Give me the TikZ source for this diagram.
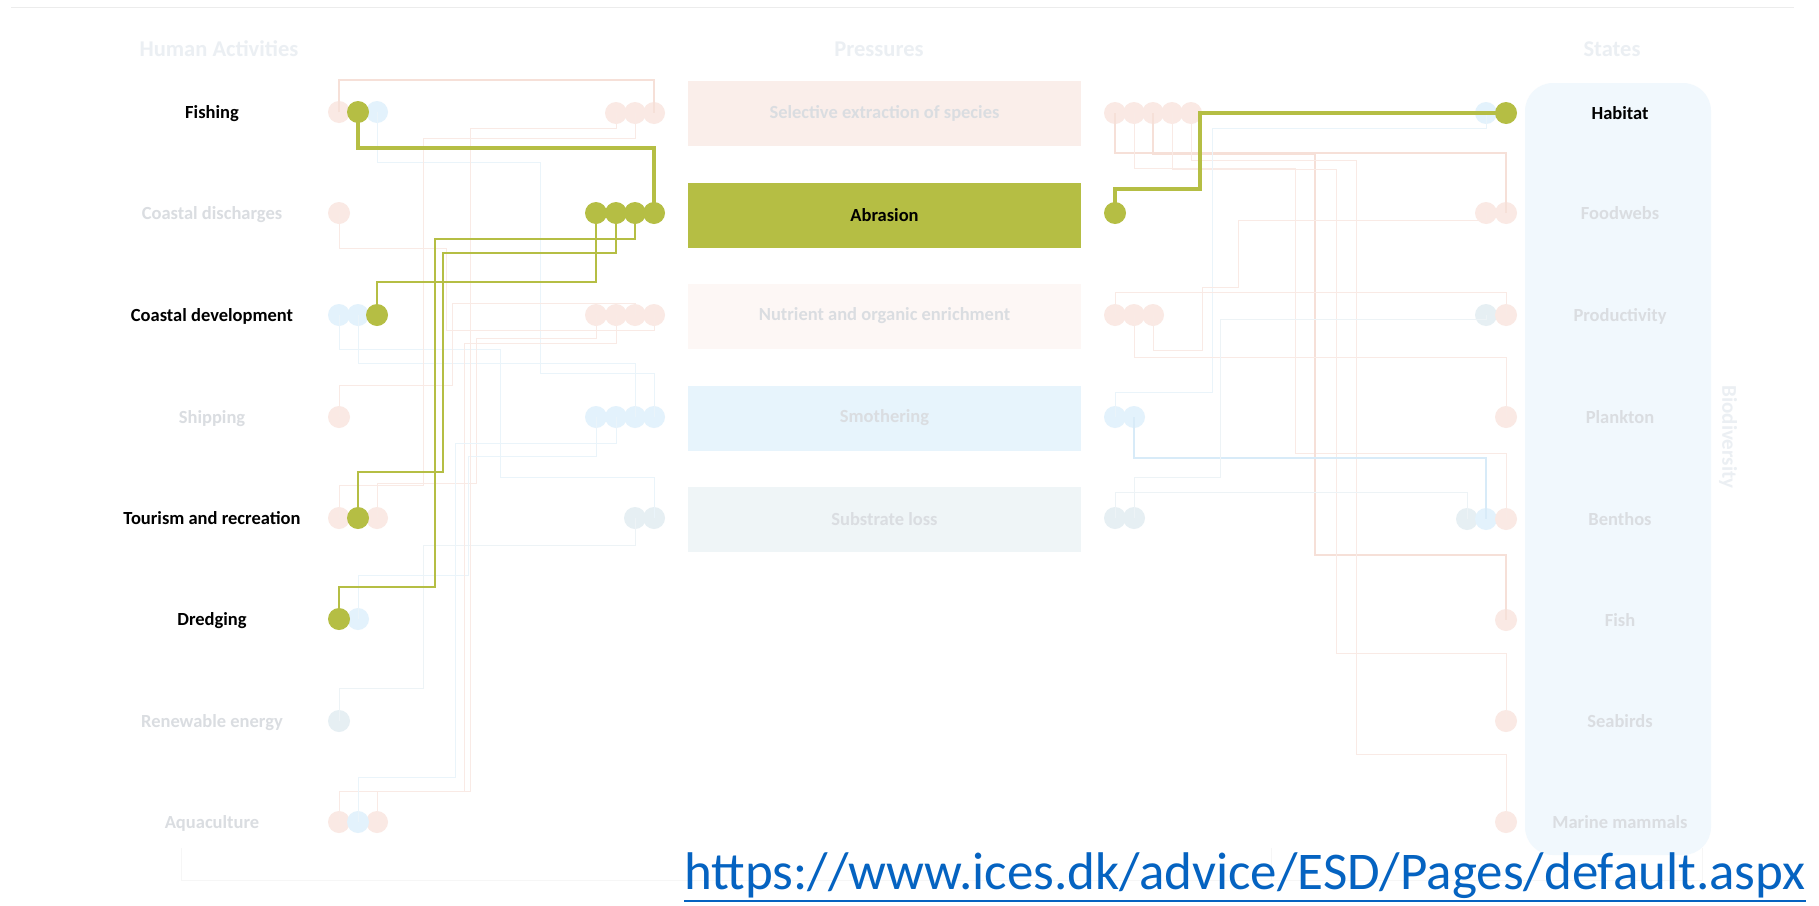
\documentclass[tikz,border=0pt]{standalone}
\usepackage{fontspec}
\setmainfont{Carlito}
\definecolor{grn}{RGB}{181,190,68}
\definecolor{redDot}{RGB}{250,233,228}
\definecolor{redLine}{RGB}{249,234,229}
\definecolor{redStrong}{RGB}{246,224,216}
\definecolor{bluDot}{RGB}{227,242,252}
\definecolor{bluLine}{RGB}{234,244,250}
\definecolor{bluStrong}{RGB}{216,235,248}
\definecolor{slateDot}{RGB}{230,239,243}
\definecolor{slateLine}{RGB}{237,243,246}
\definecolor{fadeTxt}{RGB}{218,221,225}
\definecolor{headTxt}{RGB}{235,239,243}
\definecolor{selFill}{RGB}{250,238,234}
\definecolor{nutFill}{RGB}{253,247,245}
\definecolor{smoFill}{RGB}{231,244,252}
\definecolor{subFill}{RGB}{239,245,247}
\definecolor{stFill}{RGB}{241,248,253}
\definecolor{rule}{RGB}{236,236,236}
\definecolor{link}{RGB}{5,99,193}
\begin{document}
\begin{tikzpicture}[x=1pt,y=-1pt,
  dot/.style={circle,inner sep=0pt,minimum size=22pt},
  rdot/.style={dot,fill=redDot},
  bdot/.style={dot,fill=bluDot},
  sdot/.style={dot,fill=slateDot},
  gdot/.style={dot,fill=grn},
  lbl/.style={font=\fontsize{18.5}{22}\selectfont\bfseries,text=fadeTxt,anchor=base,inner sep=0pt},
  hot/.style={text=black},
  hdr/.style={font=\fontsize{22.5}{26}\selectfont\bfseries,text=headTxt,anchor=base,inner sep=0pt},
  pbox/.style={minimum width=393pt,minimum height=65pt,inner sep=0pt,
    font=\fontsize{18.5}{22}\selectfont\bfseries,text=fadeTxt},
  rwire/.style={draw=redLine,line width=1pt},
  rthick/.style={draw=redStrong,line width=2.6pt},
  bwire/.style={draw=bluLine,line width=1pt},
  bthick/.style={draw=bluStrong,line width=2pt},
  swire/.style={draw=slateLine,line width=1pt},
  gwire/.style={draw=grn,line width=2pt},
  gthick/.style={draw=grn,line width=4.5pt},
]
\useasboundingbox (0,0) rectangle (1819,905);
\fill[white] (0,0) rectangle (1819,905);

% frame rules
\coordinate (ruleL) at (11,7);
\coordinate (ruleR) at (1794,7);
\draw[rule,line width=1pt] (ruleL) -- (ruleR);
\coordinate (brA) at (181,848);
\coordinate (brB) at (1271,848);
\coordinate (brC) at (1702,848);
\draw[draw={rgb,255:red,246;green,246;blue,246},line width=1pt]
  (brA) -- ++(0,32) -| (brC) (brB) -- ++(0,32);

% column headings
\node[hdr] (hHA) at (219,56) {Human Activities};
\node[hdr] (hPR) at (879,56) {Pressures};
\node[hdr] (hST) at (1612,56) {States};

% states panel
\node[fill=stFill,rounded corners=28pt,minimum width=186pt,minimum height=772pt,inner sep=0pt] (stPanel) at (1618,469) {};
\node[font=\fontsize{21}{24}\selectfont\bfseries,text=headTxt,rotate=-90] (bio) at (1728,437) {Biodiversity};

% pressure boxes
\node[pbox,fill=selFill] (pSe) at (884.5,113.5) {Selective extraction of species};
\node[pbox,fill=grn,text=black] (pAb) at (884.5,215) {Abrasion};
\node[pbox,fill=nutFill] (pNu) at (884.5,316) {Nutrient and organic enrichment};
\node[pbox,fill=smoFill] (pSm) at (884.5,418) {Smothering};
\node[pbox,fill=subFill] (pSu) at (884.5,519) {Substrate loss};

% activity labels
\node[lbl,hot] (aFi) at (212,118) {Fishing};
\node[lbl] (aCd) at (212,219) {Coastal discharges};
\node[lbl,hot] (aDv) at (212,321) {Coastal development};
\node[lbl] (aSh) at (212,423) {Shipping};
\node[lbl,hot] (aTo) at (212,524) {Tourism and recreation};
\node[lbl,hot] (aDr) at (212,625) {Dredging};
\node[lbl] (aRe) at (212,727) {Renewable energy};
\node[lbl] (aAq) at (212,828) {Aquaculture};

% state labels
\node[lbl,hot] (sHa) at (1620,119) {Habitat};
\node[lbl] (sFo) at (1620,219) {Foodwebs};
\node[lbl] (sPr) at (1620,321) {Productivity};
\node[lbl] (sPl) at (1620,423) {Plankton};
\node[lbl] (sBe) at (1620,525) {Benthos};
\node[lbl] (sFi) at (1620,626) {Fish};
\node[lbl] (sSe) at (1620,727) {Seabirds};
\node[lbl] (sMa) at (1620,828) {Marine mammals};

% faint connection points, activities
\node[rdot] (aFi1) at (339,112) {};
\node[bdot] (aFi3) at (377,112) {};
\node[rdot] (aCd1) at (339,213) {};
\node[bdot] (aDv1) at (339,315) {};
\node[bdot] (aDv2) at (358,315) {};
\node[rdot] (aSh1) at (339,417) {};
\node[rdot] (aTo1) at (339,518) {};
\node[rdot] (aTo3) at (377,518) {};
\node[bdot] (aDr2) at (358,619) {};
\node[sdot] (aRe1) at (339,721) {};
\node[rdot] (aAq1) at (339,822) {};
\node[rdot] (aAq3) at (377,822) {};
\node[bdot] (aAq2) at (358,822) {};

% faint connection points, pressures (left side)
\node[rdot] (pSeL2) at (616,113) {};
\node[rdot] (pSeL3) at (635,113) {};
\node[rdot] (pSeL4) at (654,113) {};
\node[rdot] (pNuL1) at (596,315) {};
\node[rdot] (pNuL2) at (616,315) {};
\node[rdot] (pNuL3) at (635,315) {};
\node[rdot] (pNuL4) at (654,315) {};
\node[bdot] (pSmL1) at (596,417) {};
\node[bdot] (pSmL2) at (616,417) {};
\node[bdot] (pSmL3) at (635,417) {};
\node[bdot] (pSmL4) at (654,417) {};
\node[sdot] (pSuL3) at (635,518) {};
\node[sdot] (pSuL4) at (654,518) {};

% faint connection points, pressures (right side)
\node[rdot] (pSeR1) at (1115,113) {};
\node[rdot] (pSeR2) at (1134,113) {};
\node[rdot] (pSeR3) at (1153,113) {};
\node[rdot] (pSeR4) at (1172,113) {};
\node[rdot] (pSeR5) at (1191,113) {};
\node[rdot] (pNuR1) at (1115,315) {};
\node[rdot] (pNuR2) at (1134,315) {};
\node[rdot] (pNuR3) at (1153,315) {};
\node[bdot] (pSmR1) at (1115,417) {};
\node[bdot] (pSmR2) at (1134,417) {};
\node[sdot] (pSuR1) at (1115,518) {};
\node[sdot] (pSuR2) at (1134,518) {};

% faint connection points, states
\node[bdot] (sHa2) at (1486,113) {};
\node[rdot] (sFo2) at (1486,213) {};
\node[rdot] (sFo3) at (1506,213) {};
\node[sdot] (sPr2) at (1486,315) {};
\node[rdot] (sPr3) at (1506,315) {};
\node[rdot] (sPl3) at (1506,417) {};
\node[sdot] (sBe1) at (1467,519) {};
\node[bdot] (sBe2) at (1486,519) {};
\node[rdot] (sBe3) at (1506,519) {};
\node[rdot] (sFi3) at (1506,620) {};
\node[rdot] (sSe3) at (1506,721) {};
\node[rdot] (sMa3) at (1506,822) {};

% faint links, activities to pressures
\draw[rthick] (aFi1.center) -- ++(0,-32) -| (pSeL4.center);
\draw[bwire] (aFi3.center) -- ++(0,50) -- ++(163,0) -- ++(0,211) -| (pSmL4.center);
\draw[rwire] (aCd1.center) -- ++(0,35) -- ++(107,0) -- ++(0,82) -| (pNuL4.center);
\draw[bwire] (aDv1.center) -- ++(0,34) -- ++(161,0) -- ++(0,128) -| (pSuL4.center);
\draw[bwire] (aDv2.center) -- ++(0,48) -| (pSmL3.center);
\draw[rwire] (aSh1.center) -- ++(0,-32) -- ++(113,0) -- ++(0,-82) -| (pNuL3.center);
\draw[rwire] (aTo1.center) -- ++(0,-33) -- ++(84,0) -- ++(0,-347) -| (pSeL3.center);
\draw[rwire] (aTo3.center) -- ++(0,-35) -- ++(99,0) -- ++(0,-145) -| (pNuL1.center);
\draw[bwire] (aDr2.center) -- ++(0,-44) -- ++(110,0) -- ++(0,-119) -| (pSmL1.center);
\draw[swire] (aRe1.center) -- ++(0,-33) -- ++(84,0) -- ++(0,-143) -| (pSuL3.center);
\draw[rwire] (aAq1.center) -- ++(0,-31) -- ++(125,0) -- ++(0,-448) -| (pNuL2.center);
\draw[rwire] (aAq3.center) -- ++(0,-31) -- ++(93,0) -- ++(0,-663) -| (pSeL2.center);
\draw[bwire] (aAq2.center) -- ++(0,-45) -- ++(97,0) -- ++(0,-334) -| (pSmL2.center);

% faint links, pressures to states
\draw[rthick] (pSeR1.center) -- ++(0,40) -| (sFo3.center);
\draw[rwire] (pSeR2.center) -- ++(0,55) -- ++(161,0) -- ++(0,285) -| (sBe3.center);
\draw[rthick] (pSeR3.center) -- ++(0,41) -- ++(162,0) -- ++(0,401) -| (sFi3.center);
\draw[rwire] (pSeR4.center) -- ++(0,56) -- ++(164,0) -- ++(0,484) -| (sSe3.center);
\draw[rwire] (pSeR5.center) -- ++(0,47) -- ++(165,0) -- ++(0,594) -| (sMa3.center);
\draw[bwire] (pSmR1.center) -- ++(0,-25) -- ++(97,0) -- ++(0,-264) -| (sHa2.center);
\draw[bthick] (pSmR2.center) -- ++(0,41) -| (sBe2.center);
\draw[rwire] (pNuR1.center) -- ++(0,-23) -| (sPr3.center);
\draw[rwire] (pNuR2.center) -- ++(0,42) -| (sPl3.center);
\draw[rwire] (pNuR3.center) -- ++(0,35) -- ++(49,0) -- ++(0,-63) -- ++(36,0) -- ++(0,-67) -| (sFo2.center);
\draw[swire] (pSuR1.center) -- ++(0,-26) -| (sBe1.center);
\draw[swire] (pSuR2.center) -- ++(0,-41) -- ++(86,0) -- ++(0,-158) -| (sPr2.center);

% highlighted connection points
\node[gdot] (aFi2) at (358,112) {};
\node[gdot] (aDv3) at (377,315) {};
\node[gdot] (aTo2) at (358,518) {};
\node[gdot] (aDr1) at (339,619) {};
\node[gdot] (pAbL1) at (596,213) {};
\node[gdot] (pAbL2) at (616,213) {};
\node[gdot] (pAbL3) at (635,213) {};
\node[gdot] (pAbL4) at (654,213) {};
\node[gdot] (pAbR1) at (1115,213) {};
\node[gdot] (sHa3) at (1506,113) {};

% highlighted links
\draw[gthick] (aFi2.center) -- ++(0,36) -| (pAbL4.center);
\draw[gwire] (aDv3.center) -- ++(0,-33) -| (pAbL1.center);
\draw[gwire] (aTo2.center) -- ++(0,-46) -- ++(85,0) -- ++(0,-219) -| (pAbL2.center);
\draw[gwire] (aDr1.center) -- ++(0,-32) -- ++(96,0) -- ++(0,-348) -| (pAbL3.center);
\draw[gthick] (pAbR1.center) -- ++(0,-24) -- ++(85,0) |- (sHa3.center);

% source link
\node[font=\fontsize{53}{60}\selectfont,text=link,anchor=base west,inner sep=0pt] (url) at (684,889) {https://www.ices.dk/advice/ESD/Pages/default.aspx};
\draw[link,line width=2pt] ([yshift=-12pt]url.base west) -- ([yshift=-12pt]url.base east);
\end{tikzpicture}
\end{document}
